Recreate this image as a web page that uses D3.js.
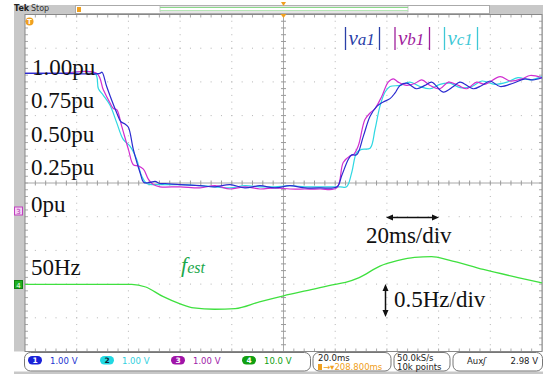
<!DOCTYPE html>
<html>
<head>
<meta charset="utf-8">
<script src="https://cdn.jsdelivr.net/npm/d3@7"></script>
<style>
body{margin:0;background:#fff}
svg{display:block}
</style>
</head>
<body>
<svg id="scope" width="543" height="374"></svg>
<script>
// times are ms from the left edge of the screen (20ms/div, 10 div)
var tA = [0,13.5,29.0,29.8,31.6,35.5,37.1,38.7,40.0,41.9,44.5,46.0,48.4,50.3,52.2,54.2,60.0,67.7,73.5,79.3,85.1,90.9,96.7,102.5,108.3,114.1,120.7,122.5,125.1,126.4,128.3,130.9,133.5,136.1,138.6,141.2,143.1,145.1,147.7,151.5,154.7,157.3,161.8,165.7,168.3,173.4,176.7,179.9,183.8,188.8,193.4,196.5,200];
var vA = [1.00,1.00,1.00,1.01,0.88,0.64,0.56,0.54,0.51,0.31,0.10,0.01,0.01,0.02,0.00,0.00,-0.01,-0.02,-0.03,-0.01,-0.04,-0.02,-0.04,-0.02,-0.04,-0.04,-0.03,0.07,0.22,0.26,0.26,0.43,0.61,0.70,0.74,0.77,0.82,0.89,0.91,0.86,0.89,0.92,0.83,0.88,0.92,0.86,0.89,0.93,0.88,0.91,0.95,0.94,0.96];

var tB = [0,13.5,27.7,30.3,32.9,34.2,35.5,37.4,40.0,41.9,43.8,45.8,47.7,49.6,52.2,60.0,67.7,73.5,79.3,85.1,90.9,96.7,102.5,108.3,114.1,120.6,123.1,125.7,127.0,128.9,131.5,133.5,135.4,138.0,140.5,142.5,144.4,147.7,150.9,153.5,156.7,160.5,163.8,167.6,170.9,174.7,177.9,183.8,187.6,192.3,195.4,200];
var vB = [1.00,1.00,1.00,0.85,0.73,0.68,0.67,0.52,0.31,0.17,0.16,0.13,0.04,-0.01,-0.03,-0.03,-0.04,-0.02,-0.05,-0.03,-0.05,-0.04,-0.05,-0.05,-0.05,-0.04,0.19,0.25,0.26,0.34,0.58,0.64,0.68,0.79,0.92,0.95,0.92,0.89,0.91,0.94,0.89,0.86,0.92,0.89,0.86,0.92,0.90,0.97,0.93,0.95,0.98,0.96];

var tC = [0,13.5,27.1,28.4,30.3,32.9,35.5,38.0,40.6,43.2,45.1,47.1,52.2,60.0,67.7,73.5,79.3,85.1,90.9,96.7,102.5,108.3,114.1,121.9,124.4,126.4,128.3,130.3,133.5,135.4,137.3,139.3,141.2,145.1,148.9,152.8,156.7,160.5,164.4,168.3,172.9,176.8,181.8,186.5,190.7,195.4,200];
var vC = [1.00,1.00,1.00,0.86,0.80,0.71,0.55,0.40,0.34,0.22,0.07,0.00,-0.01,-0.01,-0.02,-0.03,-0.04,-0.02,-0.03,-0.03,-0.02,-0.03,-0.03,-0.03,-0.03,0.10,0.28,0.31,0.32,0.49,0.70,0.83,0.88,0.89,0.92,0.88,0.86,0.90,0.91,0.87,0.88,0.93,0.90,0.92,0.96,0.94,0.97];

var tF = [0,20,41.3,46.7,53.3,60,65.3,73.3,81.3,90.7,100,110.7,120,124,129.3,137.3,144,150.7,157.3,164,177.3,190.7,200];
var fF = [50.00,50.00,50.00,49.96,49.82,49.71,49.65,49.63,49.64,49.74,49.83,49.92,50.00,50.03,50.10,50.27,50.35,50.40,50.41,50.36,50.22,50.10,50.02];

var puLabels = ["1.00pu","0.75pu","0.50pu","0.25pu","0pu"];
var legendNames = ["a1","b1","c1"];
var chanNames = ["1","2","3","4"];
var chanScales = ["1.00 V","1.00 V","1.00 V","10.0 V"];

var colA = "#2b2bd0", colB = "#d02ed0", colC = "#2fd8e2", colF = "#3fe03f";
var chanFill = ["#1a22d8","#22d8e2","#a014a8","#12a012"];
var chanText = ["#2233d0","#33d0e0","#a020a8","#12a012"];
var legendCol = ["#2a40a8","#a0209c","#3ec8d6"];

var svg = d3.select("#scope");
var L = 25, R = 542, T = 14.5, B = 351.5;

/* frame */
svg.append("rect").attr("x",14).attr("y",5).attr("width",529).attr("height",369).attr("fill","#c8c8c8");
svg.append("rect").attr("x",L).attr("y",T).attr("width",R-L).attr("height",B-T).attr("fill","#fff");
svg.append("rect").attr("x",14).attr("y",351.5).attr("width",529).attr("height",20).attr("fill","#fff");

/* top strip */
svg.append("text").attr("x",14).attr("y",11).attr("font-family","DejaVu Sans").attr("font-size",8)
  .attr("font-weight","bold").attr("fill","#222").text("Tek");
svg.append("text").attr("x",31).attr("y",11).attr("font-family","DejaVu Sans").attr("font-size",8)
  .attr("fill","#333").text("Stop");
svg.append("rect").attr("x",75.5).attr("y",5.5).attr("width",414).attr("height",8).attr("fill","#fff").attr("stroke","#aaa");
svg.append("rect").attr("x",77).attr("y",7).attr("width",4).attr("height",5).attr("fill","#f0a020");
svg.append("rect").attr("x",160).attr("y",6).attr("width",248).attr("height",6).attr("fill","none").attr("stroke","#bbb").attr("stroke-width",0.8);
svg.append("line").attr("x1",160).attr("x2",408).attr("y1",7.5).attr("y2",7.5).attr("stroke","#8ad88a");
svg.append("line").attr("x1",160).attr("x2",408).attr("y1",10.5).attr("y2",10.5).attr("stroke","#b6e6b6");

/* scales */
var x = d3.scaleLinear().domain([0,200]).range([L,R]);
var gx = d3.scaleLinear().domain([0,10]).range([L,R]);
var gy = d3.scaleLinear().domain([-5,5]).range([B,T]);
var yV = d3.scaleLinear().domain([0,1]).range([183.5,73.3]);
var yF = d3.scaleLinear().domain([50,50.5]).range([284.3,250.6]);

/* graticule dots */
var grid = svg.append("g");
d3.range(1,10).forEach(function(i){
  if(i==5) return;
  d3.range(0,50).forEach(function(k){
    grid.append("rect").attr("x",gx(i)-0.5).attr("y",T+k*(B-T)/50-0.5).attr("width",1).attr("height",1).attr("fill","#b4b4b4");
  });
});
d3.range(-4,5).forEach(function(j){
  if(j==0) return;
  d3.range(0,50).forEach(function(k){
    grid.append("rect").attr("x",L+k*(R-L)/50-0.5).attr("y",gy(j)-0.5).attr("width",1).attr("height",1).attr("fill","#b4b4b4");
  });
});

/* center cross and edge ticks */
var cx = gx(5), cy = gy(0);
grid.append("line").attr("x1",L).attr("x2",R).attr("y1",cy).attr("y2",cy).attr("stroke","#a8a8a8");
grid.append("line").attr("x1",cx).attr("x2",cx).attr("y1",T).attr("y2",B).attr("stroke","#a8a8a8");
d3.range(1,50).forEach(function(k){
  var xx = L+k*(R-L)/50;
  grid.append("line").attr("x1",xx).attr("x2",xx).attr("y1",cy-2.5).attr("y2",cy+2.5).attr("stroke","#9a9a9a");
  grid.append("line").attr("x1",xx).attr("x2",xx).attr("y1",T).attr("y2",T+3).attr("stroke","#aaa");
  grid.append("line").attr("x1",xx).attr("x2",xx).attr("y1",B-3).attr("y2",B).attr("stroke","#aaa");
  var yy = T+k*(B-T)/50;
  grid.append("line").attr("x1",cx-2.5).attr("x2",cx+2.5).attr("y1",yy).attr("y2",yy).attr("stroke","#9a9a9a");
  grid.append("line").attr("x1",L).attr("x2",L+3).attr("y1",yy).attr("y2",yy).attr("stroke","#aaa");
  grid.append("line").attr("x1",R-3).attr("x2",R).attr("y1",yy).attr("y2",yy).attr("stroke","#aaa");
});
svg.append("rect").attr("x",L).attr("y",T).attr("width",R-L).attr("height",B-T).attr("fill","none").attr("stroke","#888");

/* markers */
svg.append("path").attr("d","M"+(cx-3)+",14 L"+(cx+3)+",14 L"+cx+",18 Z").attr("fill","#f0a020");
svg.append("path").attr("d","M"+(cx-2.5)+",2 L"+(cx+2.5)+",2 L"+cx+",6 Z").attr("fill","#f0a020");
svg.append("circle").attr("cx",29.5).attr("cy",21.5).attr("r",4).attr("fill","#f0a020");
svg.append("text").attr("x",29.5).attr("y",24.3).attr("text-anchor","middle").attr("font-family","DejaVu Sans")
  .attr("font-size",7).attr("font-weight","bold").attr("fill","#fff").text("T");
svg.append("rect").attr("x",14.5).attr("y",207).attr("width",8).attr("height",8).attr("fill","#f4d0f4").attr("stroke","#c040c0");
svg.append("text").attr("x",18.5).attr("y",214).attr("text-anchor","middle").attr("font-family","DejaVu Sans")
  .attr("font-size",7).attr("fill","#b030b0").text("3");
svg.append("rect").attr("x",14.5).attr("y",280.5).attr("width",8).attr("height",8).attr("fill","#20b020").attr("stroke","#108010");
svg.append("text").attr("x",18.5).attr("y",287.5).attr("text-anchor","middle").attr("font-family","DejaVu Sans")
  .attr("font-size",7).attr("fill","#fff").text("4");

/* traces */
var line = d3.line().x(function(d){return x(d[0]);}).y(function(d){return yV(d[1]);}).curve(d3.curveCatmullRom.alpha(0.5));
var traces = [[tC,vC,colC],[tB,vB,colB],[tA,vA,colA]];
svg.append("g").selectAll("path").data(traces).enter().append("path")
  .attr("d", function(s){return line(d3.zip(s[0],s[1]));})
  .attr("fill","none").attr("stroke",function(s){return s[2];}).attr("stroke-width",1.2);

var fline = d3.line().x(function(d){return x(d[0]);}).y(function(d){return yF(d[1]);}).curve(d3.curveMonotoneX);
svg.append("path").attr("d",fline(d3.zip(tF,fF))).attr("fill","none").attr("stroke",colF).attr("stroke-width",1.3);

/* annotations */
var serif = "Liberation Serif, Times New Roman, serif";
var labelY = [75,108,142,175,212];
svg.append("g").selectAll("text").data(puLabels).enter().append("text")
  .attr("x",function(d,i){return i==0?32:31;}).attr("y",function(d,i){return labelY[i];})
  .attr("font-family",serif).attr("font-size",23).attr("fill","#111").text(function(d){return d;});
svg.append("text").attr("x",31).attr("y",275).attr("font-family",serif).attr("font-size",23).attr("fill","#111").text("50Hz");
svg.append("text").attr("x",366).attr("y",243).attr("font-family",serif).attr("font-size",23).attr("fill","#111").text("20ms/div");
svg.append("text").attr("x",394).attr("y",307).attr("font-family",serif).attr("font-size",23).attr("fill","#111").text("0.5Hz/div");

var fest = svg.append("text").attr("x",181).attr("y",272).attr("font-family",serif).attr("font-style","italic").attr("fill","#1aa84a");
fest.append("tspan").attr("font-size",22).text("f");
fest.append("tspan").attr("font-size",16).attr("dy",1).text("est");

/* arrows */
var ah = svg.append("g").attr("stroke","#111").attr("fill","#111");
ah.append("line").attr("x1",390).attr("x2",435).attr("y1",217.5).attr("y2",217.5).attr("stroke-width",1.5);
ah.append("path").attr("d","M386,217.5 L393,214.5 L393,220.5 Z").attr("stroke","none");
ah.append("path").attr("d","M439,217.5 L432,214.5 L432,220.5 Z").attr("stroke","none");
ah.append("line").attr("x1",385.5).attr("x2",385.5).attr("y1",288).attr("y2",313).attr("stroke-width",1.5);
ah.append("path").attr("d","M385.5,284 L382.5,291 L388.5,291 Z").attr("stroke","none");
ah.append("path").attr("d","M385.5,317 L382.5,310 L388.5,310 Z").attr("stroke","none");

/* legend |va1| |vb1| |vc1| */
var legX = [345.5,395,444.5];
var legW = [34,34.5,33];
legendNames.forEach(function(n,i){
  var g = svg.append("g");
  g.append("line").attr("x1",legX[i]).attr("x2",legX[i]).attr("y1",27).attr("y2",50).attr("stroke",legendCol[i]).attr("stroke-width",1.3);
  g.append("line").attr("x1",legX[i]+legW[i]).attr("x2",legX[i]+legW[i]).attr("y1",27).attr("y2",50).attr("stroke",legendCol[i]).attr("stroke-width",1.3);
  var t = g.append("text").attr("x",legX[i]+3).attr("y",45).attr("font-family",serif).attr("font-style","italic").attr("fill",legendCol[i]);
  t.append("tspan").attr("font-size",21).text("v");
  t.append("tspan").attr("font-size",17).text(n);
});

/* status bar */
var sans = "DejaVu Sans, Verdana, sans-serif";
var boxes = [[24.5,286],[313,78],[394,56],[453,89.5]];
svg.append("g").selectAll("rect").data(boxes).enter().append("rect")
  .attr("x",function(d){return d[0];}).attr("y",352.5).attr("width",function(d){return d[1];}).attr("height",18.5)
  .attr("rx",6).attr("fill","#fff").attr("stroke","#777");
var chX = [28,100,171,242];
chanNames.forEach(function(n,i){
  svg.append("rect").attr("x",chX[i]).attr("y",356).attr("width",14).attr("height",8.5).attr("rx",4.2).attr("fill",chanFill[i]);
  svg.append("text").attr("x",chX[i]+7).attr("y",363).attr("text-anchor","middle").attr("font-family",sans)
    .attr("font-size",7.5).attr("font-weight","bold").attr("fill",i==1?"#123":"#fff").text(n);
  svg.append("text").attr("x",chX[i]+22).attr("y",363.5).attr("font-family",sans).attr("font-size",8.5)
    .attr("fill",chanText[i]).text(chanScales[i]);
});
svg.append("text").attr("x",318).attr("y",361).attr("font-family",sans).attr("font-size",8.5).attr("fill","#222").text("20.0ms");
svg.append("rect").attr("x",318).attr("y",364).attr("width",4).attr("height",6).attr("fill","#f0a020");
svg.append("text").attr("x",323).attr("y",370).attr("font-family",sans).attr("font-size",8.5).attr("fill","#f0a020").text("\u2192\u25BE208.800ms");
svg.append("text").attr("x",397).attr("y",361).attr("font-family",sans).attr("font-size",8.5).attr("fill","#222").text("50.0kS/s");
svg.append("text").attr("x",397).attr("y",370).attr("font-family",sans).attr("font-size",8.5).attr("fill","#222").text("10k points");
svg.append("text").attr("x",467).attr("y",363.5).attr("font-family",sans).attr("font-size",8.5).attr("fill","#222").text("Aux");
svg.append("text").attr("x",483).attr("y",363.5).attr("font-family",sans).attr("font-size",8.5).attr("font-style","italic").attr("fill","#222").text("\u0283");
svg.append("text").attr("x",538).attr("y",363.5).attr("text-anchor","end").attr("font-family",sans).attr("font-size",8.5).attr("fill","#222").text("2.98 V");
</script>
</body>
</html>
